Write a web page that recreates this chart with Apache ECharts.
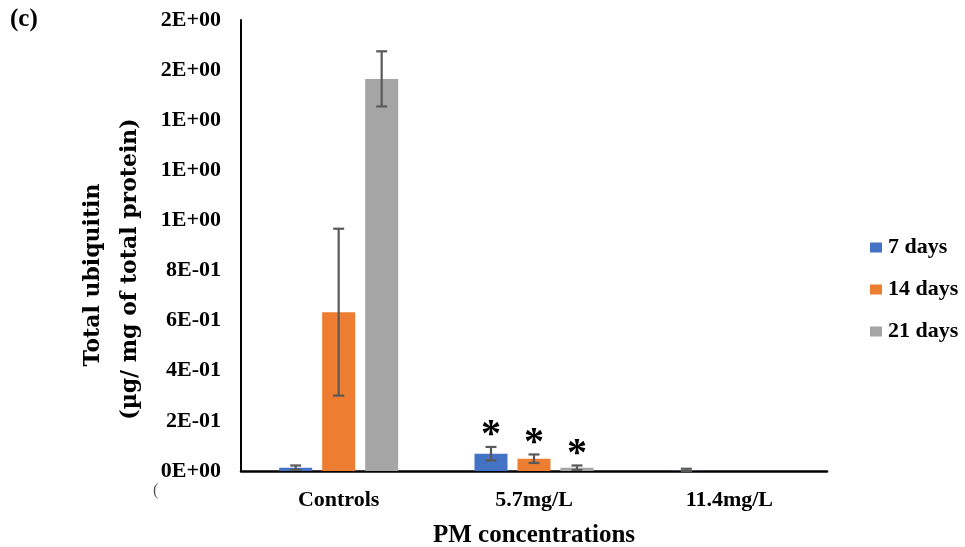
<!DOCTYPE html>
<html>
<head>
<meta charset="utf-8">
<script src="https://cdn.jsdelivr.net/npm/echarts@6/dist/echarts.min.js"></script>
<style>html,body{margin:0;padding:0;background:#fff}#c{width:965px;height:547px}</style>
</head>
<body>
<div id="c"></div>
<script>
// ---- data ----
var categories = ['Controls', '5.7mg/L', '11.4mg/L'];
var seriesNames = ['7 days', '14 days', '21 days'];
var days7  = [0.013, 0.069, 0.001];
var days14 = [0.634, 0.049, 0];
var days21 = [1.565, 0.013, 0];
var err7  = [0.009, 0.027, 0.008];
var err14 = [0.333, 0.017, 0];
var err21 = [0.110, 0.009, 0];
var sig7  = [false, true, false];
var sig14 = [false, true, false];
var sig21 = [false, true, false];
var yTickLabels = ['0E+00', '2E-01', '4E-01', '6E-01', '8E-01', '1E+00', '1E+00', '1E+00', '2E+00', '2E+00'];

// ---- styles ----
var colors = ['#4472C4', '#ED7D31', '#A5A5A5'];
var SERIF = '"Liberation Serif", "Times New Roman", serif';
var BAR_W = 33, BAR_GAP = 10;

var values = [days7, days14, days21];
var errs = [err7, err14, err21];
var sigs = [sig7, sig14, sig21];

var errData = [];
for (var g = 0; g < 3; g++) {
  for (var i = 0; i < categories.length; i++) {
    errData.push([i, values[g][i], errs[g][i], g, sigs[g][i] ? 1 : 0]);
  }
}

var chart = echarts.init(document.getElementById('c'), null, {renderer: 'canvas'});

var barSeries = seriesNames.map(function (n, g) {
  return {
    name: n, type: 'bar', data: values[g], barWidth: BAR_W, barGap: (BAR_GAP / BAR_W * 100) + '%',
    itemStyle: {color: colors[g]}, z: 2
  };
});

var option = {
  animation: false,
  backgroundColor: '#fff',
  grid: {left: 241, right: 138, top: 20, bottom: 76, containLabel: false, outerBoundsMode: 'none'},
  legend: {
    data: seriesNames, orient: 'vertical', left: 865, top: 231,
    itemWidth: 12, itemHeight: 10, itemGap: 19,
    icon: 'rect',
    textStyle: {fontFamily: SERIF, fontWeight: 'bold', fontSize: 22, color: '#000', lineHeight: 23, padding: [0, 0, 0, 1]}
  },
  xAxis: {
    type: 'category', data: categories,
    axisLine: {lineStyle: {color: '#000', width: 2.5}},
    axisTick: {show: false},
    axisLabel: {fontFamily: SERIF, fontWeight: 'bold', fontSize: 22, color: '#000', margin: 18},
    name: 'PM concentrations', nameLocation: 'middle', nameGap: 52,
    nameTextStyle: {fontFamily: SERIF, fontWeight: 'bold', fontSize: 25, color: '#000'}
  },
  yAxis: {
    type: 'value', min: 0, max: 1.8, interval: 0.2,
    axisLine: {show: true, lineStyle: {color: '#000', width: 2}},
    axisTick: {show: false},
    splitLine: {show: false},
    axisLabel: {
      fontFamily: SERIF, fontWeight: 'bold', fontSize: 22, color: '#000', margin: 20,
      formatter: function (v) { return yTickLabels[Math.round(v / 0.2)]; }
    }
  },
  series: barSeries.concat([{
    type: 'custom', name: 'err', data: errData, z: 5, clip: false,
    encode: {x: 0, y: 1},
    renderItem: function (params, api) {
      var cat = api.value(0), v = api.value(1), e = api.value(2), g = api.value(3), s = api.value(4);
      var cx = api.coord([cat, 0])[0] + (g - 1) * (BAR_W + BAR_GAP);
      var children = [];
      var topV = v + e, lowV = Math.max(0, v - e);
      var yTop = api.coord([cat, topV])[1];
      var yLow = api.coord([cat, lowV])[1];
      var st = {stroke: '#595959', lineWidth: 2.2};
      if (e > 0) {
        children.push({type: 'line', shape: {x1: cx, y1: yTop, x2: cx, y2: yLow}, style: st});
        children.push({type: 'line', shape: {x1: cx - 5.5, y1: yTop, x2: cx + 5.5, y2: yTop}, style: st});
        children.push({type: 'line', shape: {x1: cx - 5.5, y1: yLow, x2: cx + 5.5, y2: yLow}, style: st});
      }
      if (s) {
        children.push({type: 'text', style: {
          text: '*', x: cx, y: yTop + 9, textAlign: 'center', textVerticalAlign: 'bottom',
          fontFamily: SERIF, fontWeight: 'bold', fontSize: 40, fill: '#000'
        }});
      }
      return {type: 'group', children: children};
    }
  }]),
  graphic: [
    {type: 'text', left: 10, top: 7, style: {text: '(c)', fontFamily: SERIF, fontWeight: 'bold', fontSize: 25, fill: '#000'}},
    {type: 'text', x: 153, y: 483, style: {text: '(', fontFamily: SERIF, fontSize: 16, fill: '#555'}},
    {type: 'text', x: 93, y: 275, rotation: Math.PI / 2,
      style: {text: 'Total ubiquitin', textAlign: 'center', textVerticalAlign: 'middle',
        fontFamily: '"DejaVu Serif", serif', fontWeight: 'bold', fontSize: 22, fill: '#000'}},
    {type: 'text', x: 130, y: 269, rotation: Math.PI / 2,
      style: {text: '(µg/ mg of total protein)', textAlign: 'center', textVerticalAlign: 'middle',
        fontFamily: '"DejaVu Serif", serif', fontWeight: 'bold', fontSize: 22, fill: '#000'}}
  ]
};
chart.setOption(option);
</script>
</body>
</html>
